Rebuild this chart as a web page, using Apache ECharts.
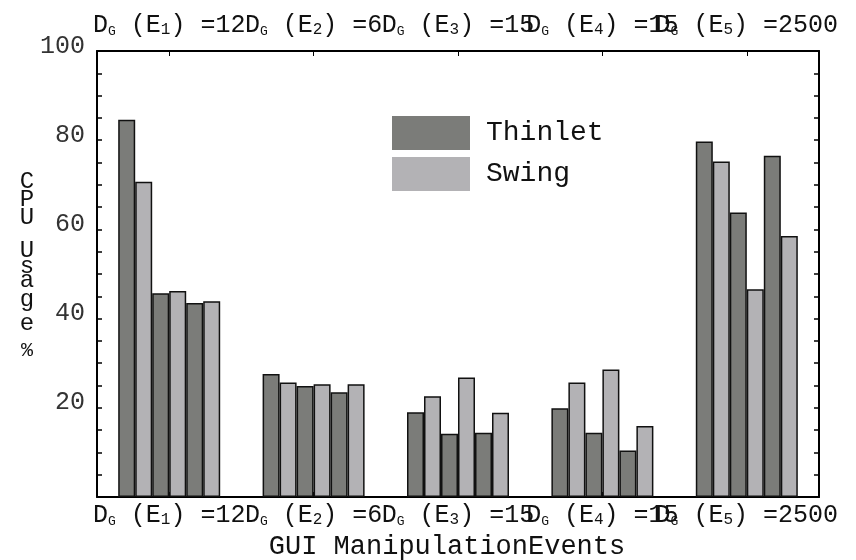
<!DOCTYPE html>
<html>
<head>
<meta charset="utf-8">
<script src="https://cdn.jsdelivr.net/npm/echarts@6/dist/echarts.min.js"></script>
<style>html,body{margin:0;padding:0;background:#fff;}#c{width:856px;height:560px;}</style>
</head>
<body>
<div id="c"></div>
<script>
// Categories: GUI manipulation events and their D_G values
var eventSubs = ['1', '2', '3', '4', '5'];
var dgValues = ['12', '6', '15', '15', '2500'];
// CPU usage (%) - three Thinlet/Swing pairs per event
var thinletA = [84.6, 27.6, 19.0, 19.9, 79.7];
var swingA   = [70.7, 25.7, 22.6, 25.7, 75.2];
var thinletB = [45.7, 24.9, 14.2, 14.4, 63.8];
var swingB   = [46.2, 25.3, 26.8, 28.6, 46.6];
var thinletC = [43.5, 23.5, 14.4, 10.4, 76.5];
var swingC   = [43.9, 25.3, 18.9, 15.9, 58.5];
var yTickLabels = [20, 40, 60, 80, 100];

var FONT = '"Liberation Mono", "DejaVu Sans Mono", monospace';
var DARK = '#7b7c79';
var LIGHT = '#b3b2b5';

var categories = eventSubs.map(function (s, i) { return i; });
function catLabel(v) {
  var i = +v;
  return '{m|D}{g|G}{m| (E}{n|' + eventSubs[i] + '}{m|) =' + dgValues[i] + '}';
}
var richLbl = {
  m: {fontFamily: FONT, fontSize: 25, lineHeight: 26, color: '#111', verticalAlign: 'bottom'},
  g: {fontFamily: FONT, fontSize: 13, lineHeight: 18, color: '#111', verticalAlign: 'bottom'},
  n: {fontFamily: FONT, fontSize: 16, lineHeight: 18, color: '#111', verticalAlign: 'bottom'}
};

function barSeries(name, data, color) {
  return {
    type: 'bar', name: name, data: data, xAxisIndex: 0, yAxisIndex: 0,
    barWidth: 17, barGap: '0%',
    itemStyle: {color: color, borderColor: '#111', borderWidth: 1.5},
    emphasis: {disabled: true}
  };
}

var frameLine = {show: true, onZero: false, lineStyle: {color: '#000', width: 2}};
var chart = echarts.init(document.getElementById('c'), null, {renderer: 'canvas'});
chart.setOption({
  animation: false,
  backgroundColor: '#fff',
  grid: {left: 97, right: 37, top: 51, bottom: 63, containLabel: false, outerBoundsMode: 'none'},
  legend: {
    data: ['Thinlet', 'Swing'],
    orient: 'vertical', left: 392, top: 116, padding: 0,
    itemWidth: 78, itemHeight: 34, itemGap: 7,
    icon: 'rect',
    itemStyle: {borderWidth: 0},
    textStyle: {fontFamily: FONT, fontSize: 28, color: '#111', padding: [0, 0, 0, 11]}
  },
  xAxis: [{
    type: 'category', data: categories, position: 'bottom',
    axisLine: frameLine,
    axisTick: {show: true, inside: true, alignWithLabel: true, length: 5, lineStyle: {color: '#000'}},
    axisLabel: {formatter: catLabel, rich: richLbl, margin: 5, interval: 0},
    name: 'GUI ManipulationEvents', nameLocation: 'middle', nameGap: 36,
    nameTextStyle: {fontFamily: FONT, fontSize: 27, color: '#111', padding: [0, 22, 0, 0]}
  }, {
    type: 'category', data: categories, position: 'top',
    axisLine: frameLine,
    axisTick: {show: true, inside: true, alignWithLabel: true, length: 5, lineStyle: {color: '#000'}},
    axisLabel: {formatter: catLabel, rich: richLbl, margin: 13, interval: 0}
  }],
  yAxis: [{
    type: 'value', min: 0, max: 100, interval: 5, position: 'left',
    axisLine: frameLine,
    splitLine: {show: false},
    axisTick: {show: true, inside: true, length: 5, lineStyle: {color: '#000', width: 1.5}},
    axisLabel: {
      fontFamily: FONT, fontSize: 25, color: '#333', margin: 12,
      verticalAlign: 'bottom', lineHeight: 10,
      formatter: function (v) { return yTickLabels.indexOf(v) >= 0 ? String(v) : ''; }
    }
  }, {
    type: 'value', min: 0, max: 100, interval: 5, position: 'right',
    axisLine: frameLine,
    splitLine: {show: false},
    axisTick: {show: true, inside: true, length: 5, lineStyle: {color: '#000', width: 1.5}},
    axisLabel: {show: false}
  }],
  series: [
    barSeries('Thinlet', thinletA, DARK),
    barSeries('Swing', swingA, LIGHT),
    barSeries('Thinlet', thinletB, DARK),
    barSeries('Swing', swingB, LIGHT),
    barSeries('Thinlet', thinletC, DARK),
    barSeries('Swing', swingC, LIGHT)
  ],
  graphic: [{
    type: 'text', x: 27, y: 173,
    style: {
      text: ['{c|C}', '{c|P}', '{c|U}', '{b| }', '{c|U}', '{s|s}', '{s|a}', '{t|g}', '{t|e}', '{p|%}'].join('\n'),
      align: 'center', verticalAlign: 'top', fill: '#111',
      rich: {
        c: {fontFamily: FONT, fontSize: 24, lineHeight: 18, fill: '#111'},
        b: {fontFamily: FONT, fontSize: 10, lineHeight: 15},
        s: {fontFamily: FONT, fontSize: 24, lineHeight: 14, fill: '#111'},
        t: {fontFamily: FONT, fontSize: 24, lineHeight: 24, fill: '#111'},
        p: {fontFamily: FONT, fontSize: 20, lineHeight: 30, fill: '#111'}
      }
    }
  }]
});
</script>
</body>
</html>
